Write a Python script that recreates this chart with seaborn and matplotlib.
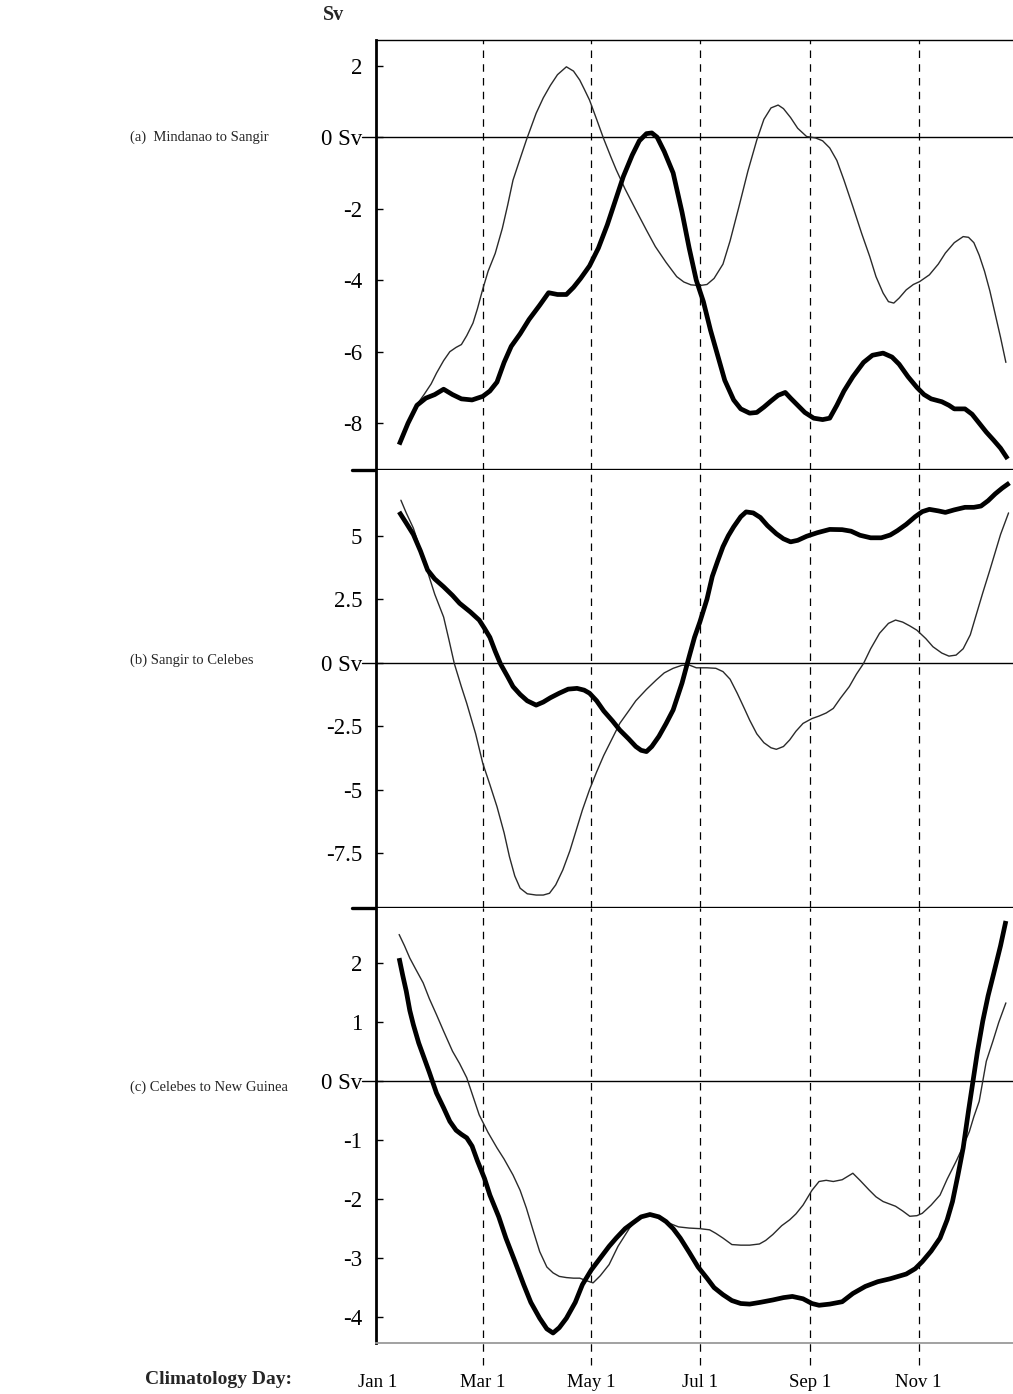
import numpy as np
import pandas as pd
import matplotlib
matplotlib.use("Agg")
import matplotlib.pyplot as plt
import matplotlib.transforms as mtransforms
import seaborn as sns

# ---------------- data (day of year, Sv) ----------------
a_thick_day = [13, 18, 23, 28, 33, 38, 43, 48, 54, 60, 64, 68, 72, 76, 81, 86, 92, 97, 102, 107, 111, 115, 120,
               125, 130, 135, 139, 144, 148, 152, 155, 158, 162, 167, 172, 176, 180, 184, 188, 192, 196, 201, 205,
               210, 214, 218, 222, 226, 230, 233, 237, 241, 246, 251, 255, 259, 263, 268, 274, 279, 285, 290, 294,
               299, 304, 308, 312, 318, 322, 325, 331, 335, 339, 343, 347, 351, 355]
a_thick_val = [-8.6, -8.0, -7.5, -7.3, -7.2, -7.05, -7.2, -7.32, -7.35, -7.25, -7.1, -6.85, -6.3, -5.85, -5.5, -5.1,
               -4.7, -4.35, -4.4, -4.4, -4.2, -3.95, -3.6, -3.1, -2.45, -1.7, -1.1, -0.5, -0.1, 0.1, 0.12, 0.0, -0.4,
               -1.0, -2.1, -3.1, -4.0, -4.6, -5.4, -6.1, -6.8, -7.35, -7.6, -7.72, -7.7, -7.55, -7.38, -7.22, -7.14,
               -7.3, -7.5, -7.7, -7.86, -7.9, -7.86, -7.5, -7.1, -6.7, -6.3, -6.1, -6.04, -6.15, -6.35, -6.7, -7.0,
               -7.2, -7.32, -7.4, -7.5, -7.6, -7.6, -7.75, -8.0, -8.25, -8.47, -8.7, -9.0]
a_thin_day = [22, 27, 31, 34, 38, 41.5, 45, 48, 51, 54.5, 57, 60, 63, 67, 71, 74, 77, 81, 84.5, 90, 94, 98, 102,
              107, 111, 114.5, 117, 120, 124, 128, 132, 135, 140, 146, 152, 157, 163, 169, 173, 177, 182, 186, 190,
              195, 199, 204, 209, 214, 218, 222, 226, 229, 233, 237, 242, 247, 251, 255, 259, 263, 268, 273, 277.5,
              281, 285, 288, 291, 294, 298, 302, 305.5, 311, 316, 320, 325, 330, 333, 336, 339, 342, 345, 348, 351, 354]
a_thin_val = [-7.55, -7.2, -6.9, -6.6, -6.25, -6.0, -5.88, -5.8, -5.55, -5.2, -4.8, -4.25, -3.75, -3.25, -2.55, -1.9,
              -1.2, -0.6, -0.08, 0.67, 1.1, 1.45, 1.75, 1.97, 1.85, 1.6, 1.35, 1.04, 0.5, -0.05, -0.55, -0.91, -1.45,
              -2.03, -2.6, -3.06, -3.5, -3.9, -4.05, -4.13, -4.15, -4.12, -3.95, -3.55, -2.9, -1.94, -0.95, -0.08,
              0.5, 0.82, 0.9, 0.8, 0.55, 0.25, 0.02, -0.02, -0.1, -0.3, -0.65, -1.2, -1.94, -2.7, -3.34, -3.9, -4.36,
              -4.6, -4.64, -4.5, -4.27, -4.12, -4.04, -3.85, -3.55, -3.24, -2.95, -2.78, -2.8, -2.95, -3.3, -3.75,
              -4.3, -4.95, -5.6, -6.3]

b_thick_day = [13, 17, 21, 25, 29, 33, 38, 43, 47, 53, 58, 61, 64, 67, 70, 74, 77, 81, 85, 90, 94, 98, 103, 108,
               113, 117, 120, 124, 128, 133, 137, 142, 146, 149, 152, 155, 159, 163, 167, 172, 176, 179, 182, 186,
               189, 192, 195, 198, 201, 205, 208, 212, 216, 220, 225, 229, 233, 237, 242, 248, 255, 262, 267, 272,
               278, 284, 289, 293, 298, 303, 307, 311, 316, 320, 325, 331, 336, 340, 344, 348, 352, 356]
b_thick_val = [5.94, 5.5, 5.05, 4.4, 3.65, 3.3, 2.99, 2.65, 2.34, 2.0, 1.68, 1.35, 1.0, 0.45, -0.05, -0.55, -0.94,
               -1.25, -1.5, -1.67, -1.55, -1.38, -1.2, -1.04, -1.01, -1.08, -1.2, -1.5, -1.9, -2.3, -2.65, -3.0, -3.3,
               -3.45, -3.5, -3.3, -2.9, -2.4, -1.86, -0.8, 0.24, 1.0, 1.6, 2.5, 3.4, 4.0, 4.57, 5.0, 5.35, 5.75, 5.94,
               5.9, 5.72, 5.4, 5.08, 4.88, 4.76, 4.82, 4.98, 5.12, 5.25, 5.24, 5.18, 5.02, 4.92, 4.92, 5.03, 5.2,
               5.45, 5.75, 5.95, 6.04, 5.98, 5.92, 6.02, 6.12, 6.12, 6.17, 6.38, 6.65, 6.88, 7.08]
b_thin_day = [14, 17, 21, 25, 29, 33, 38, 41, 44, 48, 51, 56, 60, 64, 68, 72, 75, 78, 81, 85, 90, 94, 97.5, 101,
              105, 109, 112.5, 116, 120, 124, 128, 133, 137, 142, 146, 152, 157.5, 162, 167, 172, 176, 180, 186, 191,
              195, 199, 203, 207, 210, 214, 218, 222, 225, 229, 232.5, 236, 240, 245, 249, 253, 257, 261, 266, 270,
              274, 278, 283, 288, 292, 296, 300, 304, 309, 313, 318, 322, 326, 330, 334, 337, 341, 345, 348, 351,
              355.5]
b_thin_val = [6.4, 5.9, 5.3, 4.45, 3.58, 2.7, 1.8, 0.9, -0.03, -0.95, -1.6, -2.8, -3.96, -4.8, -5.67, -6.7, -7.64,
              -8.4, -8.88, -9.1, -9.15, -9.15, -9.08, -8.75, -8.16, -7.4, -6.6, -5.8, -5.0, -4.3, -3.65, -2.95, -2.39,
              -1.9, -1.5, -1.05, -0.68, -0.4, -0.22, -0.1, -0.09, -0.2, -0.2, -0.22, -0.35, -0.65, -1.2, -1.8, -2.26,
              -2.8, -3.15, -3.35, -3.41, -3.3, -3.04, -2.7, -2.39, -2.2, -2.1, -1.98, -1.8, -1.4, -0.94, -0.45,
              -0.03, 0.55, 1.16, 1.55, 1.68, 1.6, 1.45, 1.28, 0.95, 0.63, 0.38, 0.26, 0.3, 0.55, 1.1, 1.81, 2.75,
              3.65, 4.35, 5.05, 5.9]

c_thick_day = [13, 15, 17, 19, 21, 24, 27, 30, 34, 38, 41.5, 45, 48, 51, 54, 57, 61, 64, 69, 73, 78, 83, 87, 92,
               96, 99.5, 103, 107, 112, 116, 121, 126, 131, 135, 140, 144, 149, 154, 159, 163, 167, 171, 176, 181,
               186, 190, 195, 200, 205, 210, 216, 223, 229, 234, 240, 245, 249, 255, 262, 268, 275, 282, 289, 298,
               303, 307, 312, 317, 321, 324, 327, 330, 333, 335.5, 338, 341, 344, 347, 351, 354]
c_thick_val = [2.09, 1.8, 1.53, 1.2, 0.96, 0.65, 0.4, 0.15, -0.2, -0.45, -0.68, -0.83, -0.9, -0.96, -1.1, -1.35,
               -1.65, -1.93, -2.3, -2.66, -3.05, -3.45, -3.75, -4.02, -4.2, -4.27, -4.18, -4.02, -3.75, -3.45, -3.2,
               -3.0, -2.8, -2.66, -2.5, -2.41, -2.3, -2.26, -2.3, -2.38, -2.5, -2.66, -2.9, -3.15, -3.34, -3.5, -3.62,
               -3.72, -3.77, -3.78, -3.75, -3.71, -3.67, -3.65, -3.69, -3.77, -3.8, -3.78, -3.74, -3.6, -3.48, -3.4,
               -3.35, -3.27, -3.18, -3.06, -2.88, -2.66, -2.35, -2.04, -1.6, -1.13, -0.5, 0.0, 0.5, 1.02, 1.45, 1.81,
               2.3, 2.72]
c_thin_day = [13, 16, 19, 22, 26.5, 30, 34, 38, 43, 47, 51, 55, 58, 63, 68, 72, 77, 81, 84.5, 88, 92, 96, 99.5,
              103, 107, 111, 114.5, 118, 122, 126, 131, 136, 142.5, 148, 153.8, 159, 165, 170, 176, 182, 187.5, 191,
              195, 200, 205, 210, 215.5, 219, 223, 228, 232.5, 236, 240, 245, 249, 253, 257, 262, 268, 272, 277,
              281, 285, 292, 296, 300, 304, 307, 312, 317, 321, 326, 330, 333.5, 336, 339, 341, 343, 346.7, 350, 354]
c_thin_val = [2.49, 2.3, 2.09, 1.92, 1.67, 1.4, 1.13, 0.85, 0.51, 0.3, 0.06, -0.3, -0.57, -0.87, -1.13, -1.32,
              -1.59, -1.85, -2.15, -2.5, -2.89, -3.15, -3.25, -3.31, -3.33, -3.34, -3.34, -3.38, -3.42, -3.3, -3.11,
              -2.8, -2.49, -2.32, -2.24, -2.33, -2.41, -2.47, -2.49, -2.5, -2.52, -2.58, -2.66, -2.77, -2.78, -2.78,
              -2.76, -2.7, -2.6, -2.45, -2.35, -2.25, -2.1, -1.85, -1.7, -1.68, -1.7, -1.67, -1.56, -1.68, -1.84,
              -1.96, -2.04, -2.12, -2.2, -2.29, -2.28, -2.24, -2.1, -1.93, -1.66, -1.36, -1.1, -0.85, -0.6, -0.34,
              0.0, 0.34, 0.68, 1.0, 1.33]

month_days = [1, 60, 121, 182, 244, 305]
month_labels = ["Jan 1", "Mar 1", "May 1", "Jul 1", "Sep 1", "Nov 1"]

panel_titles = ["(a)  Mindanao to Sangir", "(b) Sangir to Celebes", "(c) Celebes to New Guinea"]
a_ticks = [2, 0, -2, -4, -6, -8]
a_ticklabels = ["2", "0 Sv", "-2", "-4", "-6", "-8"]
b_ticks = [5, 2.5, 0, -2.5, -5, -7.5]
b_ticklabels = ["5", "2.5", "0 Sv", "-2.5", "-5", "-7.5"]
c_ticks = [2, 1, 0, -1, -2, -3, -4]
c_ticklabels = ["2", "1", "0 Sv", "-1", "-2", "-3", "-4"]

# ---------------- style ----------------
sns.set_style("white")
plt.rcParams['font.family'] = ['Liberation Serif', 'DejaVu Serif']

W, H = 1013, 1394
fig = plt.figure(figsize=(W / 100, H / 100), dpi=100)

left_px = 376
panels_px = [(40, 470), (470, 908), (908, 1343)]
ylims = [(-9.31, 2.72), (-9.66, 7.59), (-4.44, 2.94)]
data = [
    (a_thick_day, a_thick_val, a_thin_day, a_thin_val, a_ticks, a_ticklabels),
    (b_thick_day, b_thick_val, b_thin_day, b_thin_val, b_ticks, b_ticklabels),
    (c_thick_day, c_thick_val, c_thin_day, c_thin_val, c_ticks, c_ticklabels),
]
label_y_px = [137, 660, 1087]

axes = []
for i, ((top, bot), yl, d) in enumerate(zip(panels_px, ylims, data)):
    ax = fig.add_axes([left_px / W, 1 - bot / H, 1 - left_px / W, (bot - top) / H])
    axes.append(ax)
    thick_d, thick_v, thin_d, thin_v, ticks, ticklabels = d
    df_thin = pd.DataFrame({"day": thin_d, "sv": thin_v})
    df_thick = pd.DataFrame({"day": thick_d, "sv": thick_v})
    sns.lineplot(data=df_thin, x="day", y="sv", ax=ax, color="#2a2a2a", lw=1.0,
                 sort=False, estimator=None, zorder=3)
    sns.lineplot(data=df_thick, x="day", y="sv", ax=ax, color="black", lw=3.4,
                 sort=False, estimator=None, zorder=4, solid_capstyle="butt",
                 solid_joinstyle="round")
    ax.set_xlim(0, 358)
    ax.set_ylim(*yl)
    ax.set_xlabel("")
    ax.set_ylabel("")

    # zero line, extended to the left as a long tick
    trans = mtransforms.blended_transform_factory(ax.transAxes, ax.transData)
    ax.plot([-0.022, 1.0], [0, 0], color="black", lw=1.0, transform=trans, clip_on=False, zorder=2)

    # month dashed lines
    ext = -0.05 if i == 2 else 0
    for md in month_days[1:]:
        ax.axvline(md, ymin=ext, ymax=1, color="black", lw=0.9, ls=(0, (6, 5)),
                   clip_on=False, zorder=1)

    ax.set_yticks(ticks)
    ax.set_yticklabels(ticklabels)
    ax.tick_params(axis="y", direction="in", length=5, width=1, labelsize=16.5, pad=10,
                   left=True, colors="black")
    ax.spines["right"].set_visible(False)
    ax.spines["left"].set_linewidth(2.0)
    ax.spines["left"].set_color("black")
    ax.spines["top"].set_visible(i == 0)
    ax.spines["top"].set_linewidth(1.0)
    ax.spines["top"].set_color("black")
    if i < 2:
        ax.spines["bottom"].set_visible(False)
        # thick separator extending to the left
        trans2 = mtransforms.blended_transform_factory(ax.transAxes, ax.transAxes)
        ax.plot([-0.037, 1.0], [0, 0], color="black", lw=2.4, transform=trans2,
                clip_on=False, zorder=5)
        ax.set_xticks([])
    else:
        ax.spines["bottom"].set_color("#9a9a9a")
        ax.spines["bottom"].set_linewidth(1.3)
        ax.set_xticks(month_days)
        ax.set_xticklabels(month_labels)
        ax.tick_params(axis="x", length=0, labelsize=13.5, pad=22, colors="black")

    fig.text(130 / W, 1 - label_y_px[i] / H, panel_titles[i], fontsize=10.5,
             ha="left", va="center")

fig.text(323 / W, 1 - 15 / H, "Sv", fontsize=14.5, fontweight="bold", ha="left", va="center")
fig.text(145 / W, 1 - 1380 / H, "Climatology Day:", fontsize=14, fontweight="bold",
         ha="left", va="center")

fig.savefig("out.png", dpi=100)
